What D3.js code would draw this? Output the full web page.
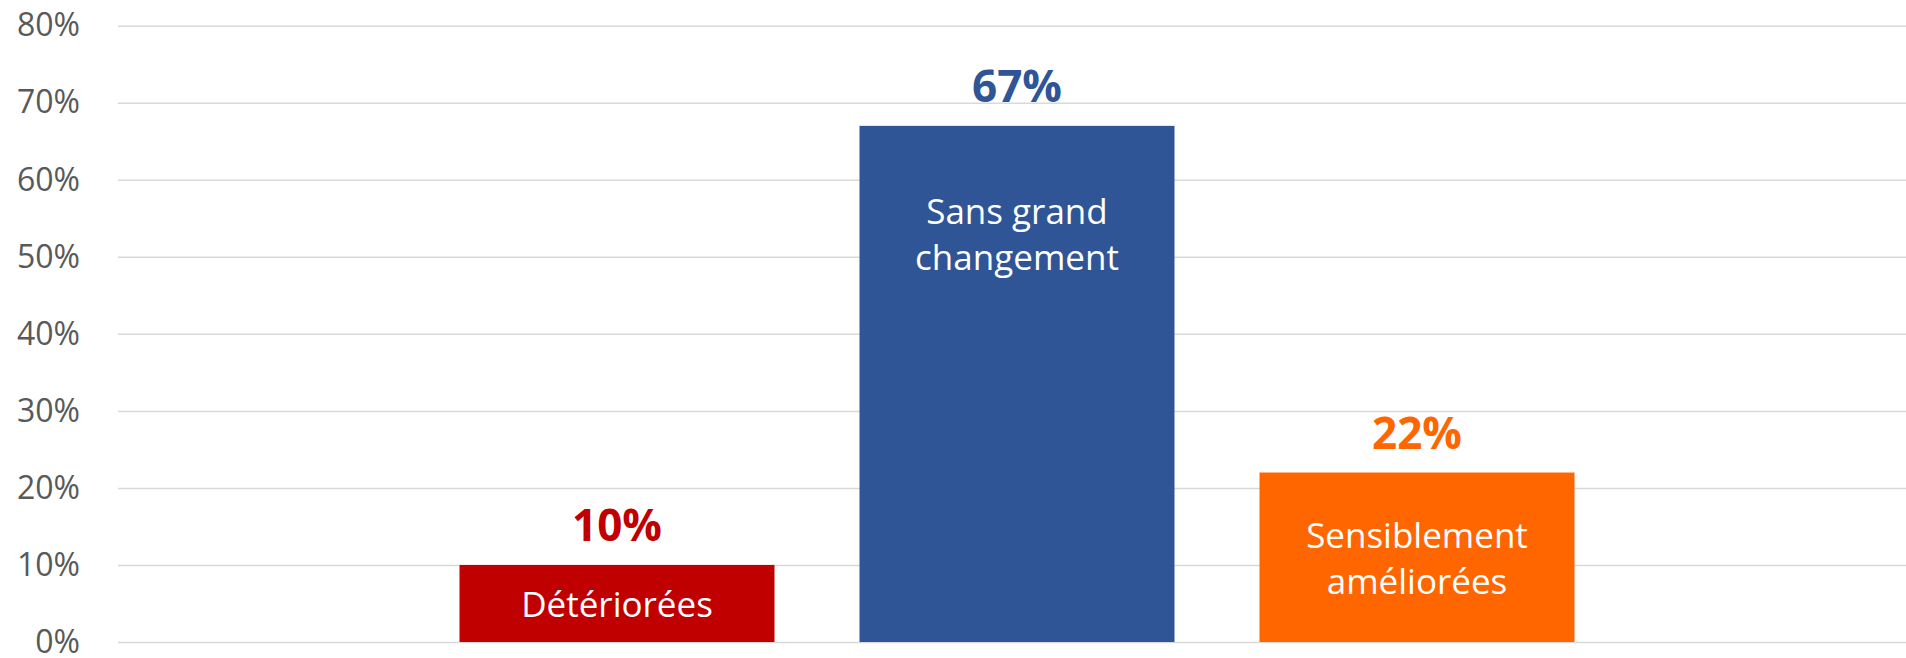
<!DOCTYPE html>
<html>
<head>
<meta charset="utf-8">
<script src="https://cdn.jsdelivr.net/npm/d3@7"></script>
<style>
    body { margin: 0; background: #fff; }
    svg { display: block; font-family: "Open Sans", sans-serif; }
</style>
</head>
<body>
<div id="chart"></div>
<script>
const categories = ["Détériorées", "Sans grand changement", "Sensiblement améliorées"];
const values = [10, 67, 22];
const barLabels = [["Détériorées"], ["Sans grand", "changement"], ["Sensiblement", "améliorées"]];
const yTicks = [0, 10, 20, 30, 40, 50, 60, 70, 80];
const barColors = ["#c00000", "#2f5597", "#ff6600"];

const width = 1906;
const height = 658;

const svg = d3.select("#chart")
    .append("svg")
    .attr("width", width)
    .attr("height", height);

const y = d3.scaleLinear()
    .domain([0, 80])
    .range([642, 25.7]);

const x = d3.scaleBand()
    .domain(categories)
    .range([417, 1617])
    .paddingInner(0.2125)
    .paddingOuter(0.10625);

const color = d3.scaleOrdinal()
    .domain(categories)
    .range(barColors);

// gridlines + tick labels
const yAxis = svg.append("g")
    .attr("transform", "translate(118,0)")
    .call(d3.axisLeft(y)
        .tickValues(yTicks)
        .tickSize(-(width - 118))
        .tickPadding(38)
        .tickFormat(d => d + "%"));

yAxis.select(".domain").remove();
yAxis.selectAll(".tick line")
    .attr("stroke", "#d9d9d9")
    .attr("stroke-width", 1.5);
yAxis.selectAll(".tick text")
    .attr("fill", "#595959")
    .style("font-size", "32px")
    .style("font-family", "'Open Sans', sans-serif");

const data = categories.map((c, i) => ({ cat: c, value: values[i], lines: barLabels[i] }));

svg.selectAll("rect.bar")
    .data(data)
    .enter()
    .append("rect")
    .attr("class", "bar")
    .attr("x", d => x(d.cat))
    .attr("y", d => y(d.value))
    .attr("width", x.bandwidth())
    .attr("height", d => y(0) - y(d.value))
    .attr("fill", d => color(d.cat));

// value labels above bars
svg.selectAll("text.value")
    .data(data)
    .enter()
    .append("text")
    .attr("class", "value")
    .attr("x", d => x(d.cat) + x.bandwidth() / 2)
    .attr("y", d => y(d.value) - 24)
    .attr("text-anchor", "middle")
    .attr("fill", d => color(d.cat))
    .style("font-size", "44px")
    .style("font-weight", "bold")
    .text(d => d.value + "%");

// category names inside bars
const lineHeight = 46;
const inner = svg.selectAll("text.inner")
    .data(data)
    .enter()
    .append("text")
    .attr("class", "inner")
    .attr("text-anchor", "middle")
    .attr("fill", "#fff")
    .style("font-size", "35px");

inner.each(function(d) {
    const top = y(d.value);
    const mid = Math.min((top + y(0)) / 2, top + 107);
    const first = mid - (d.lines.length - 1) * lineHeight / 2 + 14;
    const t = d3.select(this);
    d.lines.forEach((line, i) => {
        t.append("tspan")
            .attr("x", x(d.cat) + x.bandwidth() / 2)
            .attr("y", first + i * lineHeight)
            .text(line);
    });
});
</script>
</body>
</html>
